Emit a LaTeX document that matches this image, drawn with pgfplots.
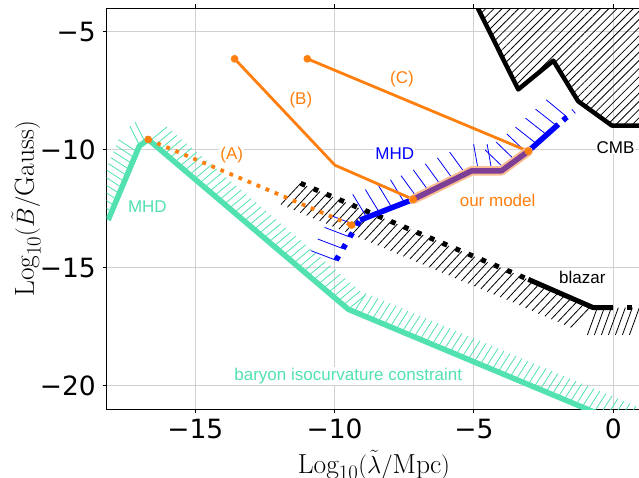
\documentclass[border=0pt]{standalone}
\usepackage{fontspec}
\usepackage{pgfplots}
\pgfplotsset{compat=1.18}
\usetikzlibrary{patterns.meta,decorations.markings}
\newfontfamily\annotfont{Liberation Sans}
\newfontfamily\tickfont{DejaVu Sans}
\definecolor{mhdgreen}{RGB}{82,226,176}
\definecolor{morange}{RGB}{255,127,14}
\definecolor{mpurple}{RGB}{125,62,150}
\definecolor{mpeach}{RGB}{250,188,145}
\tikzset{
  tickedstroke/.style n args={4}{
    postaction={decorate},
    decoration={markings, mark=between positions 0 and 1 step #1 with {\draw[solid, line cap=butt, line width=0.8bp, #4] (0bp,0bp) -- (#2:#3);}}
  },
  annot/.style={font=\annotfont\fontsize{17bp}{20bp}\selectfont, fill=white, inner sep=1bp},
}
\begin{document}
\begin{tikzpicture}
\useasboundingbox (0,0) rectangle (639bp,478bp);
\begin{axis}[
  at={(106.7bp,68.7bp)}, anchor=south west,
  scale only axis, width=534.4bp, height=401bp,
  xmin=-18.18, xmax=1.0, ymin=-21, ymax=-4,
  xtick={-15,-10,-5,0}, xticklabels={−15,−10,−5,0},
  ytick={-20,-15,-10,-5}, yticklabels={−20,−15,−10,−5},
  tick align=outside, major tick length=4bp,
  every tick/.style={black, line width=0.9bp},
  axis line style={black, line width=0.9bp},
  grid=major, grid style={black!18, line width=0.9bp},
  tick label style={font=\tickfont\fontsize{26.5bp}{30bp}\selectfont},
  xticklabel style={anchor=north, inner sep=0pt, yshift=-5.4bp},
  yticklabel style={anchor=east, inner sep=0pt, xshift=-6.7bp},
  xlabel={$\mathrm{Log}_{10}(\tilde{\lambda}/\mathrm{Mpc})$},
  ylabel={$\mathrm{Log}_{10}(\tilde{B}/\mathrm{Gauss})$},
  label style={font=\fontsize{27.5bp}{32bp}\selectfont},
  xlabel style={at={(axis description cs:0.5,-0.1596)}, anchor=base},
  ylabel style={at={(axis description cs:-0.151,0.5)}, anchor=center},
]
% CMB hatched region
\addplot[draw=none, pattern={Lines[angle=45,distance=5.8bp,line width=0.8bp]}, pattern color=black]
  coordinates {(-4.92,-3.85) (-3.41,-7.44) (-2.15,-6.22) (-1.26,-7.94) (-0.05,-8.97) (1.2,-8.97) (1.2,-3.85)} -- cycle;
% green MHD (baryon isocurvature)
\addplot[draw=none, tickedstroke={6.5bp}{80}{22bp}{mhdgreen}]
  coordinates {(-18.09,-12.87) (-17.01,-9.84) (-16.69,-9.56) (-9.51,-16.76) (1.1,-22.0)};
\addplot[mhdgreen, line width=5.5bp, line join=round, line cap=rect]
  coordinates {(-18.09,-12.87) (-17.01,-9.84) (-16.69,-9.56) (-9.51,-16.76) (1.1,-22.0)};
% blazar
\addplot[draw=none, tickedstroke={7bp}{-110}{29bp}{black}]
  coordinates {(-11.22,-11.42) (-3.05,-15.49) (-0.72,-16.69) (1.1,-16.69)};
\addplot[black, line width=5bp, dash pattern=on 5bp off 9bp, line cap=butt]
  coordinates {(-11.22,-11.42) (-3.05,-15.49)};
\addplot[black, line width=5bp, line join=round, line cap=butt]
  coordinates {(-3.05,-15.49) (-0.72,-16.69) (0.0,-16.69)};
\addplot[black, line width=5bp, dash pattern=on 5bp off 9bp, line cap=butt]
  coordinates {(0.5,-16.69) (1.1,-16.69)};
% CMB line
\addplot[black, line width=4.5bp, line join=round]
  coordinates {(-4.92,-3.85) (-3.41,-7.44) (-2.15,-6.22) (-1.26,-7.94) (-0.05,-8.97) (1.2,-8.97)};
% blue MHD
\addplot[draw=none, tickedstroke={13.5bp}{100}{27bp}{blue}]
  coordinates {(-9.95,-14.68) (-9.09,-12.98) (-7.18,-12.10) (-5.08,-10.89) (-4.01,-10.89) (-3.05,-10.06) (-1.97,-8.92) (-1.41,-8.36)};
\addplot[blue, line width=5.5bp, dash pattern=on 5bp off 8.5bp, line cap=butt]
  coordinates {(-9.95,-14.68) (-9.09,-12.98)};
\addplot[blue, line width=5.5bp, line join=round, line cap=butt]
  coordinates {(-9.09,-12.98) (-7.18,-12.10) (-5.08,-10.89) (-4.01,-10.89) (-3.05,-10.06) (-1.97,-8.92)};
\addplot[blue, line width=5.5bp, dash pattern=on 5bp off 8.5bp, line cap=butt]
  coordinates {(-1.8,-8.75) (-1.41,-8.36)};
% orange scenarios
\addplot[morange, line width=3.8bp, dash pattern=on 3.8bp off 6bp, line cap=butt]
  coordinates {(-16.69,-9.56) (-9.39,-13.19)};
\addplot[morange, line width=2.8bp, line join=round]
  coordinates {(-13.59,-6.14) (-9.99,-10.65) (-7.18,-12.10)};
\addplot[morange, line width=2.8bp]
  coordinates {(-10.98,-6.14) (-3.05,-10.06)};
% our model
\addplot[mpeach, line width=9.5bp, line join=round, line cap=round]
  coordinates {(-7.18,-12.10) (-5.08,-10.89) (-4.01,-10.89) (-3.05,-10.06)};
\addplot[mpurple, line width=5.5bp, line join=round, line cap=round]
  coordinates {(-7.18,-12.10) (-5.08,-10.89) (-4.01,-10.89) (-3.05,-10.06)};
% end points
\addplot[only marks, mark=*, mark size=3.6bp, morange, mark options={draw=morange, fill=morange}]
  coordinates {(-16.69,-9.56) (-9.39,-13.19) (-13.59,-6.14) (-7.18,-12.10) (-10.98,-6.14) (-3.05,-10.06)};
% labels
\node[annot, text=mhdgreen] at (axis cs:-16.72,-12.40) {MHD};
\node[annot, text=morange] at (axis cs:-13.69,-10.22) {(A)};
\node[annot, text=morange] at (axis cs:-11.21,-7.89) {(B)};
\node[annot, text=morange] at (axis cs:-7.58,-7.00) {(C)};
\node[annot, text=blue] at (axis cs:-7.84,-10.15) {MHD};
\node[annot, text=morange] at (axis cs:-4.15,-12.16) {our model};
\node[annot, text=black] at (axis cs:0.08,-9.90) {CMB};
\node[annot, text=black] at (axis cs:-1.11,-15.41) {blazar};
\node[annot, text=mhdgreen] at (axis cs:-9.51,-19.59) {baryon isocurvature constraint};
\end{axis}
\end{tikzpicture}
\end{document}
